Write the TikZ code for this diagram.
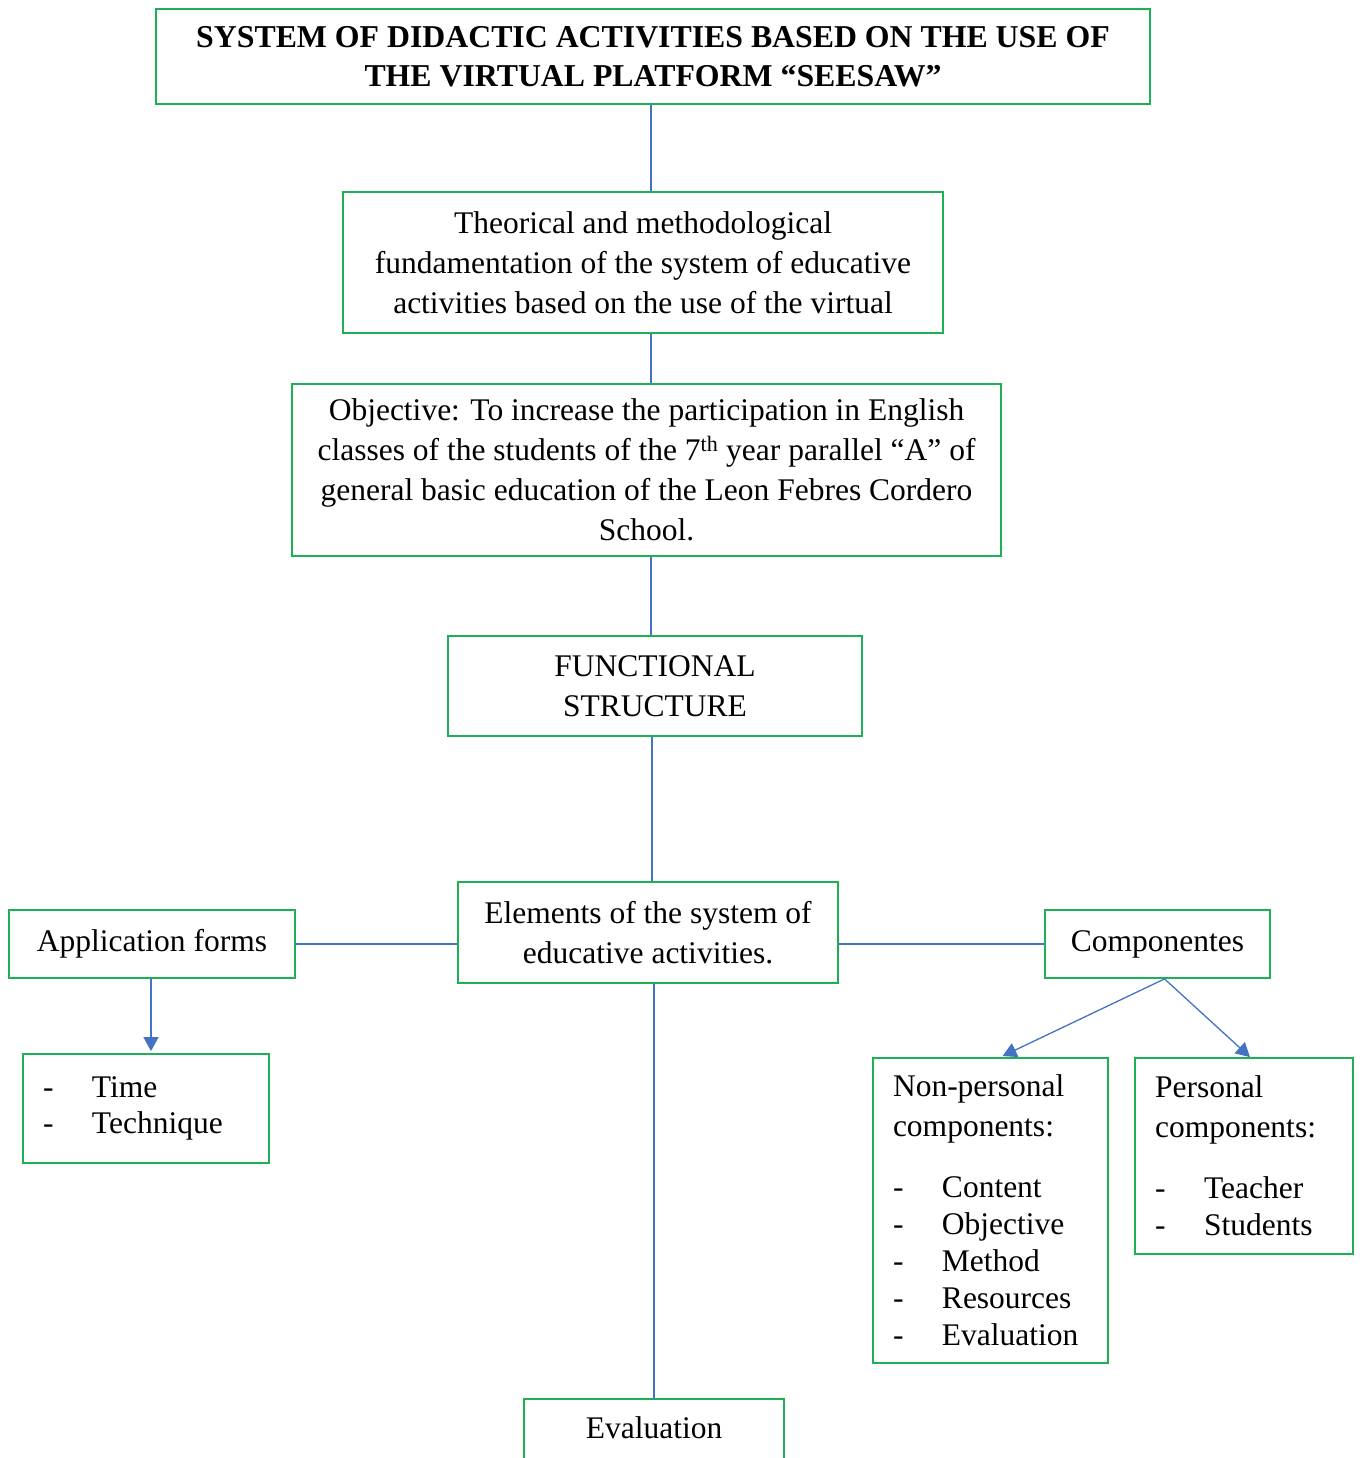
\documentclass[tikz,border=0pt]{standalone}
\usepackage{fontspec}
\setmainfont{Liberation Serif}
\usetikzlibrary{arrows.meta,calc}
\definecolor{boxgreen}{RGB}{30,176,85}
\definecolor{linkblue}{RGB}{68,114,196}
\newcommand{\dashitem}[1]{\makebox[49pt][l]{-}#1}
\begin{document}
\begin{tikzpicture}[x=1pt,y=-1pt,
  box/.style={draw=boxgreen,line width=1.8pt,inner sep=0pt,align=center,
    font=\fontsize{31.5}{40}\selectfont},
  listbox/.style={box,align=left},
  link/.style={draw=linkblue,line width=1.3pt},
  arrowlink/.style={link,-{Triangle[width=15pt,length=14pt]}}]
\clip (0,0) rectangle (1362,1458);
\fill[white] (0,0) rectangle (1362,1458);

\node[box,minimum width=994,minimum height=95,font=\fontsize{31.8}{39}\selectfont\bfseries] (title) at (653,56.5)
  {SYSTEM OF DIDACTIC ACTIVITIES BASED ON THE USE OF\\THE VIRTUAL PLATFORM “SEESAW”};
\node[box,minimum width=600,minimum height=141] (theor) at (643,262.5)
  {Theorical and methodological\\fundamentation of the system of educative\\activities based on the use of the virtual};
\node[box,minimum width=709,minimum height=172] (obj) at (646.5,470)
  {Objective: To increase the participation in English\\classes of the students of the 7\textsuperscript{th} year parallel “A” of\\general basic education of the Leon Febres Cordero\\School.};
\node[box,minimum width=414,minimum height=100] (func) at (655,686)
  {FUNCTIONAL\\STRUCTURE};
\node[box,minimum width=380,minimum height=101] (elem) at (648,932.5)
  {Elements of the system of\\educative activities.};
\node[box,minimum width=286,minimum height=68] (app) at (152,944) {Application forms};
\node[box,minimum width=225,minimum height=68] (comp) at (1157.5,944) {Componentes};
\node[listbox,minimum width=246,minimum height=109,text width=206,font=\fontsize{31.5}{36}\selectfont] (time) at (146,1108.5)
  {\dashitem{Time}\\\dashitem{Technique}\\[-30pt]\mbox{}};
\node[listbox,minimum width=235,minimum height=305,text width=195,font=\fontsize{31.5}{37}\selectfont] (nonp) at (990.5,1210.5)
  {Non-personal\\[3pt]components:\\[24pt]\dashitem{Content}\\\dashitem{Objective}\\\dashitem{Method}\\\dashitem{Resources}\\\dashitem{Evaluation}};
\node[listbox,minimum width=218,minimum height=196,text width=178,font=\fontsize{31.5}{37}\selectfont] (pers) at (1244,1156)
  {Personal\\[3pt]components:\\[24pt]\dashitem{Teacher}\\\dashitem{Students}};
\node[box,draw=none,minimum width=258,minimum height=56,anchor=north] (eval) at (654,1399) {Evaluation};
\draw[draw=boxgreen,line width=1.8pt] ($(eval.south west)+(0,20)$) -- (eval.north west) -- (eval.north east) -- ($(eval.south east)+(0,20)$);

\coordinate (xa) at (651,0);
\coordinate (xb) at (652,0);
\coordinate (xc) at (654,0);
\draw[link] (title.south -| xa) -- (theor.north -| xa);
\draw[link] (theor.south -| xa) -- (obj.north -| xa);
\draw[link] (obj.south -| xa) -- (func.north -| xa);
\draw[link] (func.south -| xb) -- (elem.north -| xb);
\draw[link] (elem.south -| xc) -- (eval.north -| xc);
\draw[link] (app.east) -- (app.east -| elem.west);
\draw[link] (comp.west -| elem.east) -- (comp.west);
\draw[arrowlink] ($(app.south)+(-1,0)$) -- ($(app.south |- time.north)+(-1,-2)$);
\draw[arrowlink] ($(comp.south)+(7,0)$) -- ($(nonp.north)+(12,-1)$);
\draw[arrowlink] ($(comp.south)+(7,0)$) -- ($(pers.north)+(6,0)$);
\end{tikzpicture}
\end{document}
